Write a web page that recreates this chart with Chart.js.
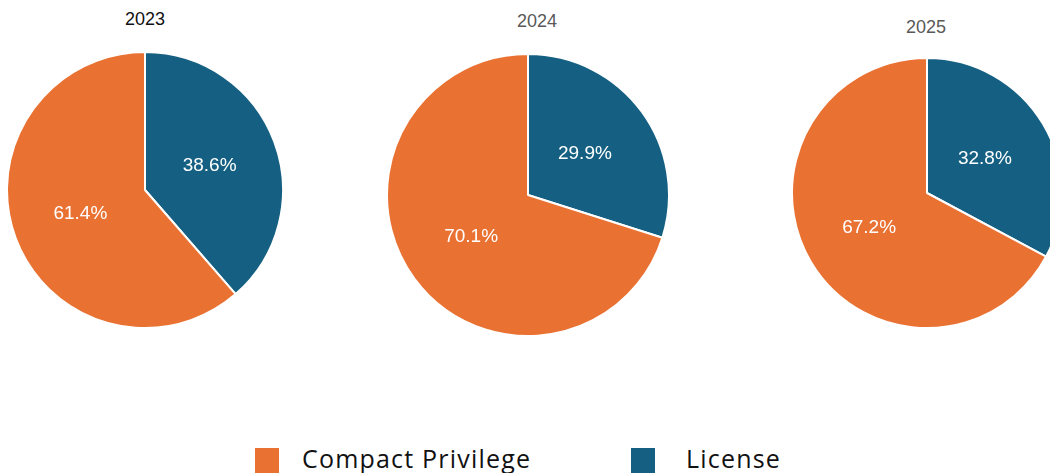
<!DOCTYPE html>
<html>
<head>
<meta charset="utf-8">
<script src="https://cdn.jsdelivr.net/npm/chart.js@4"></script>
<style>
  html, body { margin: 0; padding: 0; background: #fff; }
  body { width: 1050px; height: 473px; position: relative; overflow: hidden; font-family: "Liberation Sans", Arial, sans-serif; }
  .pie { position: absolute; }
  .ttl { position: absolute; font-size: 18px; transform: translateX(-50%); white-space: nowrap; }
  .legend { position: absolute; top: 444px; left: 0; width: 1050px; font-family: "Open Sans", "Noto Sans", sans-serif; font-size: 25px; letter-spacing: 1.2px; color: #111; }
  .legend span { position: absolute; white-space: nowrap; }
  .legend i { position: absolute; width: 24px; height: 25px; }
</style>
</head>
<body>
<div class="ttl" style="left:145px; top:9px; color:#111;">2023</div>
<div class="ttl" style="left:537px; top:11px; color:#595959;">2024</div>
<div class="ttl" style="left:926px; top:17px; color:#595959;">2025</div>

<div class="pie" id="w0"><canvas id="c0"></canvas></div>
<div class="pie" id="w1"><canvas id="c1"></canvas></div>
<div class="pie" id="w2"><canvas id="c2"></canvas></div>

<div class="legend">
  <i style="left:255px; top:4px; background:#E97132;"></i><span style="left:302px; top:-3px;">Compact Privilege</span>
  <i style="left:631px; top:4px; background:#156082;"></i><span style="left:686px; top:-3px;">License</span>
</div>

<script>
// ── Dados ─────────────────────────────────────────────
const years      = ['2023', '2024', '2025'];
const categories = ['Compact Privilege', 'License'];
const compactPct = [61.4, 70.1, 67.2];
const licensePct = [38.6, 29.9, 32.8];

const COLORS = { compact: '#E97132', license: '#156082' };

// centro e raio de cada pizza (layout)
const layout = [
  { cx: 145, cy: 190, r: 138 },
  { cx: 528, cy: 195, r: 141 },
  { cx: 927, cy: 193, r: 135 },
];

// rótulos de porcentagem dentro das fatias
const sliceLabels = {
  id: 'sliceLabels',
  afterDatasetsDraw(chart) {
    const ctx = chart.ctx;
    const ds = chart.data.datasets[0];
    chart.getDatasetMeta(0).data.forEach((arc, i) => {
      const p = arc.tooltipPosition();
      ctx.save();
      ctx.fillStyle = '#fff';
      ctx.font = '19px "Liberation Sans", Arial, sans-serif';
      ctx.textAlign = 'center';
      ctx.textBaseline = 'middle';
      ctx.fillText(ds.data[i].toFixed(1) + '%', p.x, p.y);
      ctx.restore();
    });
  }
};

years.forEach((yr, k) => {
  const L = layout[k];
  const size = 2 * L.r + 2;
  const w = document.getElementById('w' + k);
  w.style.left = (L.cx - size / 2) + 'px';
  w.style.top = (L.cy - size / 2) + 'px';
  w.style.width = size + 'px';
  w.style.height = size + 'px';

  new Chart(document.getElementById('c' + k), {
    type: 'pie',
    data: {
      // License primeiro: começa no topo em sentido horário
      labels: [categories[1], categories[0]],
      datasets: [{
        data: [licensePct[k], compactPct[k]],
        backgroundColor: [COLORS.license, COLORS.compact],
        borderColor: '#fff',
        borderWidth: 2,
      }],
    },
    options: {
      responsive: true,
      maintainAspectRatio: false,
      animation: false,
      layout: { padding: 0 },
      plugins: {
        legend: { display: false },
        tooltip: { enabled: false },
      },
    },
    plugins: [sliceLabels],
  });
});
</script>
</body>
</html>
